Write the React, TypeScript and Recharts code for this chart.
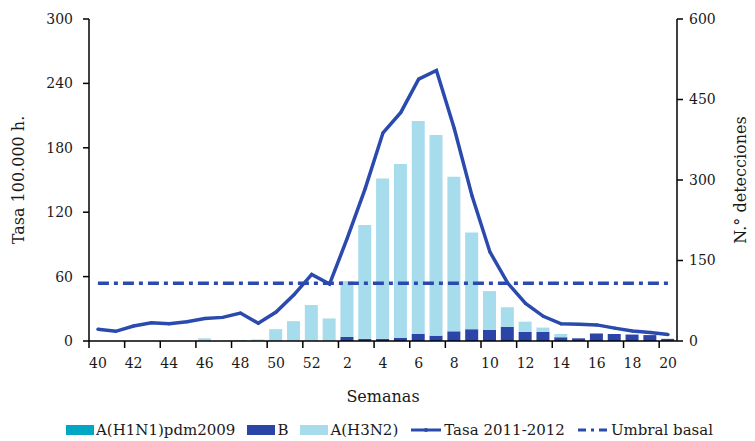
import { ComposedChart, Bar, Line, XAxis, YAxis } from "recharts";

// semanas epidemiológicas 40/2011 -> 20/2012
const weeks = [
  "40", "41", "42", "43", "44", "45", "46", "47", "48", "49", "50", "51", "52",
  "1", "2", "3", "4", "5", "6", "7", "8", "9", "10", "11", "12", "13", "14", "15", "16", "17", "18", "19", "20",
];

// tasa por 100.000 h. (eje izquierdo)
const tasa = [
  11, 9, 14, 17, 16, 18, 21, 22, 26, 16.5, 27, 43, 62,
  53, 96, 142, 194, 213, 244, 252, 198, 135, 83, 54, 35, 23, 16, 15.5, 15, 12, 9.3, 8, 6,
];

// n.º de detecciones (eje derecho)
const h1n1 = [
  0, 0, 0, 0, 0, 0, 0, 0, 0, 0, 0, 0, 0,
  0, 0, 0, 0, 0, 0, 0, 0, 0, 0, 0, 0, 0, 0, 0, 0, 0, 0, 0, 0,
];
const gripeB = [
  0, 0, 0, 0, 0, 0, 0, 0, 0, 0, 0, 0, 0,
  0, 7.5, 4, 4, 5.6, 13, 10, 18, 22, 21, 26, 17, 17, 7, 5, 14, 13, 12, 11, 4,
];
const h3n2 = [
  0, 0, 0, 0, 0, 0, 5, 0, 2, 3, 22, 37, 67,
  42, 104, 212, 299, 324, 397, 374, 288, 180, 72, 37, 19, 8, 6, 0, 0, 0, 0, 0, 0,
];

const UMBRAL_BASAL = 53.7;

const leftTicks = [0, 60, 120, 180, 240, 300];
const rightTicks = [0, 150, 300, 450, 600];

const W = 755;
const H = 441;
const LEFT_W = 89;
const RIGHT_W = 78;
const BAND = (W - LEFT_W - RIGHT_W) / weeks.length;

const FONT = "'DejaVu Serif', serif";
const INK = "#1a1a1a";
const C_LINE = "#2b4aae";
const C_B = "#2a44a8";
const C_H3 = "#a6dcec";
const C_H1 = "#00a6c6";
const DASH = "11 5 4 5";

const data = weeks.map((w, i) => ({
  week: w,
  tasa: tasa[i],
  umbral: UMBRAL_BASAL,
  h1n1: h1n1[i],
  b: gripeB[i],
  h3n2: h3n2[i],
}));

function WeekTick(props: any) {
  const { x, y, payload } = props;
  const tx = x - BAND / 2;
  return (
    <g>
      <line x1={tx} x2={tx} y1={y} y2={y + 7} stroke="#000" strokeWidth={1.5} />
      <text x={x} y={y + 27} textAnchor="middle" fontFamily={FONT} fontSize={14} fill={INK}>
        {payload.value}
      </text>
    </g>
  );
}

const legendItems = [
  { label: "A(H1N1)pdm2009", kind: "box", color: C_H1 },
  { label: "B", kind: "box", color: C_B },
  { label: "A(H3N2)", kind: "box", color: C_H3 },
  { label: "Tasa 2011-2012", kind: "line", color: C_LINE },
  { label: "Umbral basal", kind: "dash", color: C_LINE },
];

function LegendIcon({ kind, color }: { kind: string; color: string }) {
  if (kind === "box") {
    return (
      <svg width={28} height={12} style={{ marginRight: 2 }}>
        <rect x={0} y={1} width={28} height={10} fill={color} />
      </svg>
    );
  }
  return (
    <svg width={32} height={12} style={{ marginRight: 2 }}>
      <line
        x1={1}
        x2={31}
        y1={6}
        y2={6}
        stroke={color}
        strokeWidth={3}
        strokeDasharray={kind === "dash" ? "8 5 3 5" : undefined}
      />
      {kind === "line" && <circle cx={16} cy={6} r={2} fill={color} />}
    </svg>
  );
}

export default function App() {
  return (
    <div style={{ position: "absolute", left: 0, top: 0, width: W, height: H, background: "#fff" }}>
      <ComposedChart
        width={W}
        height={H}
        data={data}
        margin={{ top: 19, right: 0, bottom: 40, left: 0 }}
        barSize={13}
      >
        <XAxis
          dataKey="week"
          interval={1}
          height={60}
          tickSize={0}
          tickMargin={0}
          tick={<WeekTick />}
          axisLine={{ stroke: "#000", strokeWidth: 1.5 }}
        />
        <YAxis
          yAxisId="left"
          orientation="left"
          width={LEFT_W}
          domain={[0, 300]}
          ticks={leftTicks}
          tickSize={6}
          tickMargin={10}
          tick={{ fontFamily: FONT, fontSize: 14, fill: INK }}
          tickLine={{ stroke: "#000", strokeWidth: 1.5 }}
          axisLine={{ stroke: "#000", strokeWidth: 1.5 }}
        />
        <YAxis
          yAxisId="right"
          orientation="right"
          width={RIGHT_W}
          domain={[0, 600]}
          ticks={rightTicks}
          tickSize={6}
          tickMargin={6}
          tick={{ fontFamily: FONT, fontSize: 14, fill: INK }}
          tickLine={{ stroke: "#000", strokeWidth: 1.5 }}
          axisLine={{ stroke: "#000", strokeWidth: 1.5 }}
        />
        <Bar yAxisId="right" dataKey="h1n1" stackId="det" fill={C_H1} isAnimationActive={false} />
        <Bar yAxisId="right" dataKey="b" stackId="det" fill={C_B} isAnimationActive={false} />
        <Bar yAxisId="right" dataKey="h3n2" stackId="det" fill={C_H3} isAnimationActive={false} />
        <Line
          yAxisId="left"
          dataKey="umbral"
          type="linear"
          stroke={C_LINE}
          strokeWidth={3.5}
          strokeDasharray={DASH}
          dot={false}
          isAnimationActive={false}
        />
        <Line
          yAxisId="left"
          dataKey="tasa"
          type="linear"
          stroke={C_LINE}
          strokeWidth={3.5}
          dot={{ r: 1.6, fill: C_LINE, stroke: "none" }}
          isAnimationActive={false}
        />
      </ComposedChart>

      {/* títulos de ejes */}
      <svg
        width={W}
        height={H}
        style={{ position: "absolute", left: 0, top: 0, pointerEvents: "none" }}
      >
        <text
          transform="translate(24,180) rotate(-90)"
          textAnchor="middle"
          fontFamily={FONT}
          fontSize={16}
          fill={INK}
        >
          Tasa 100.000 h.
        </text>
        <text
          transform="translate(746,180) rotate(-90)"
          textAnchor="middle"
          fontFamily={FONT}
          fontSize={16}
          fill={INK}
        >
          N.° detecciones
        </text>
        <text x={383} y={402} textAnchor="middle" fontFamily={FONT} fontSize={16} fill={INK}>
          Semanas
        </text>
      </svg>

      <div
        style={{
          position: "absolute",
          left: 0,
          top: 421,
          width: W,
          display: "flex",
          justifyContent: "center",
          alignItems: "center",
          gap: 12,
          paddingLeft: 24,
          boxSizing: "border-box",
          fontFamily: FONT,
          fontSize: 15,
          color: INK,
          lineHeight: "18px",
        }}
      >
        {legendItems.map((it) => (
          <div key={it.label} style={{ display: "flex", alignItems: "center" }}>
            <LegendIcon kind={it.kind} color={it.color} />
            <span>{it.label}</span>
          </div>
        ))}
      </div>
    </div>
  );
}
